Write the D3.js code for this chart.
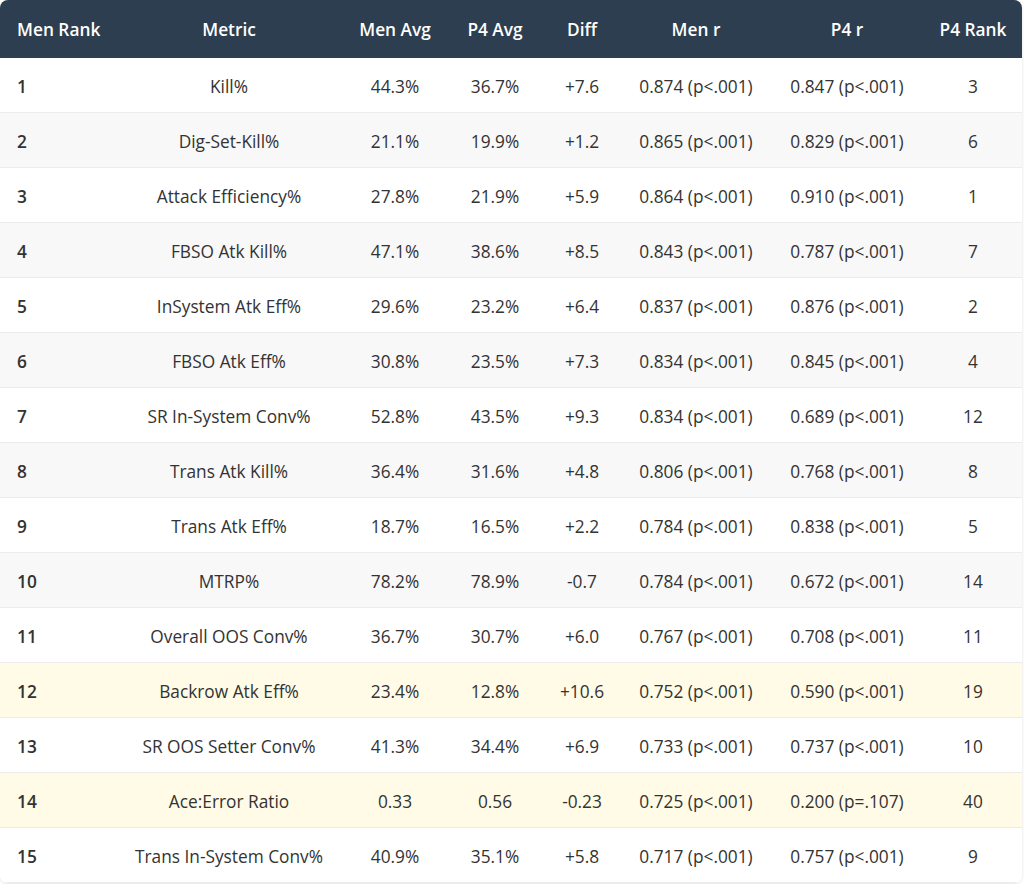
<!DOCTYPE html>
<html>
<head>
<meta charset="utf-8">
<script src="https://cdn.jsdelivr.net/npm/d3@7"></script>
<style>
    body { margin: 0; background: #fff; font-family: "Open Sans", "Noto Sans", sans-serif; }
    svg { display: block; }
</style>
</head>
<body>
<div id="chart"></div>
<script>
// table data
const headers = ["Men Rank", "Metric", "Men Avg", "P4 Avg", "Diff", "Men r", "P4 r", "P4 Rank"];
const menRank = [1, 2, 3, 4, 5, 6, 7, 8, 9, 10, 11, 12, 13, 14, 15];
const metrics = ["Kill%", "Dig-Set-Kill%", "Attack Efficiency%", "FBSO Atk Kill%", "InSystem Atk Eff%",
    "FBSO Atk Eff%", "SR In-System Conv%", "Trans Atk Kill%", "Trans Atk Eff%", "MTRP%",
    "Overall OOS Conv%", "Backrow Atk Eff%", "SR OOS Setter Conv%", "Ace:Error Ratio", "Trans In-System Conv%"];
const menAvg = ["44.3%", "21.1%", "27.8%", "47.1%", "29.6%", "30.8%", "52.8%", "36.4%", "18.7%", "78.2%",
    "36.7%", "23.4%", "41.3%", "0.33", "40.9%"];
const p4Avg = ["36.7%", "19.9%", "21.9%", "38.6%", "23.2%", "23.5%", "43.5%", "31.6%", "16.5%", "78.9%",
    "30.7%", "12.8%", "34.4%", "0.56", "35.1%"];
const diffs = ["+7.6", "+1.2", "+5.9", "+8.5", "+6.4", "+7.3", "+9.3", "+4.8", "+2.2", "-0.7",
    "+6.0", "+10.6", "+6.9", "-0.23", "+5.8"];
const menR = ["0.874 (p<.001)", "0.865 (p<.001)", "0.864 (p<.001)", "0.843 (p<.001)", "0.837 (p<.001)",
    "0.834 (p<.001)", "0.834 (p<.001)", "0.806 (p<.001)", "0.784 (p<.001)", "0.784 (p<.001)",
    "0.767 (p<.001)", "0.752 (p<.001)", "0.733 (p<.001)", "0.725 (p<.001)", "0.717 (p<.001)"];
const p4R = ["0.847 (p<.001)", "0.829 (p<.001)", "0.910 (p<.001)", "0.787 (p<.001)", "0.876 (p<.001)",
    "0.845 (p<.001)", "0.689 (p<.001)", "0.768 (p<.001)", "0.838 (p<.001)", "0.672 (p<.001)",
    "0.708 (p<.001)", "0.590 (p<.001)", "0.737 (p<.001)", "0.200 (p=.107)", "0.757 (p<.001)"];
const p4Rank = [3, 6, 1, 7, 2, 4, 12, 8, 5, 14, 11, 19, 10, 40, 9];
const highlighted = [12, 14];

const rows = menRank.map((r, i) => ({
    rank: r,
    cells: [r, metrics[i], menAvg[i], p4Avg[i], diffs[i], menR[i], p4R[i], p4Rank[i]],
    hi: highlighted.includes(r)
}));

// layout
const width = 1024, height = 884;
const headerH = 58, rowH = 55;
const tableW = 1022;
const fontSize = "17.3px";

// column anchor x and alignment
const colX = d3.scaleOrdinal()
    .domain(headers)
    .range([17, 229, 395, 495, 582, 696, 847, 973]);
const colAnchor = d => d === "Men Rank" ? "start" : "middle";

const y = d3.scaleBand()
    .domain(menRank)
    .range([headerH, headerH + rowH * menRank.length]);

const svg = d3.select("#chart").append("svg")
    .attr("width", width)
    .attr("height", height);

const defs = svg.append("defs");
const shadow = defs.append("filter").attr("id", "shadow")
    .attr("x", "-5%").attr("y", "-5%").attr("width", "110%").attr("height", "110%");
shadow.append("feDropShadow")
    .attr("dx", 0).attr("dy", 1).attr("stdDeviation", 1.5)
    .attr("flood-color", "#000").attr("flood-opacity", 0.12);

defs.append("clipPath").attr("id", "clip")
    .append("rect")
    .attr("x", 0).attr("y", 0)
    .attr("width", tableW).attr("height", headerH + rowH * menRank.length)
    .attr("rx", 8);

// card background with shadow
svg.append("rect")
    .attr("x", 0).attr("y", 0)
    .attr("width", tableW).attr("height", headerH + rowH * menRank.length)
    .attr("rx", 8)
    .attr("fill", "#fff")
    .attr("filter", "url(#shadow)");

const g = svg.append("g").attr("clip-path", "url(#clip)");

// header
g.append("rect")
    .attr("x", 0).attr("y", 0)
    .attr("width", tableW).attr("height", headerH)
    .attr("fill", "#2c3e50");

g.selectAll(".header")
    .data(headers)
    .enter().append("text")
    .attr("class", "header")
    .attr("x", d => colX(d))
    .attr("y", headerH / 2 + 1)
    .attr("dy", "0.35em")
    .attr("text-anchor", colAnchor)
    .attr("fill", "#fff")
    .style("font-size", fontSize)
    .style("font-weight", "600")
    .text(d => d);

// body rows
const row = g.selectAll(".row")
    .data(rows)
    .enter().append("g")
    .attr("class", "row")
    .attr("transform", d => `translate(0,${y(d.rank)})`);

row.append("rect")
    .attr("width", tableW)
    .attr("height", y.bandwidth())
    .attr("fill", (d, i) => d.hi ? "#fffbe6" : (i % 2 === 1 ? "#f8f8f8" : "#fff"));

row.append("line")
    .attr("x1", 0).attr("x2", tableW)
    .attr("y1", y.bandwidth() - 0.5).attr("y2", y.bandwidth() - 0.5)
    .attr("stroke", "#ececec");

row.selectAll(".cell")
    .data(d => d.cells.map((v, j) => ({col: headers[j], v: v})))
    .enter().append("text")
    .attr("class", "cell")
    .attr("x", d => colX(d.col))
    .attr("y", y.bandwidth() / 2 + 1)
    .attr("dy", "0.35em")
    .attr("text-anchor", d => colAnchor(d.col))
    .attr("fill", "#333")
    .style("font-size", fontSize)
    .style("font-weight", d => d.col === "Men Rank" ? "600" : "400")
    .text(d => d.v);
</script>
</body>
</html>
